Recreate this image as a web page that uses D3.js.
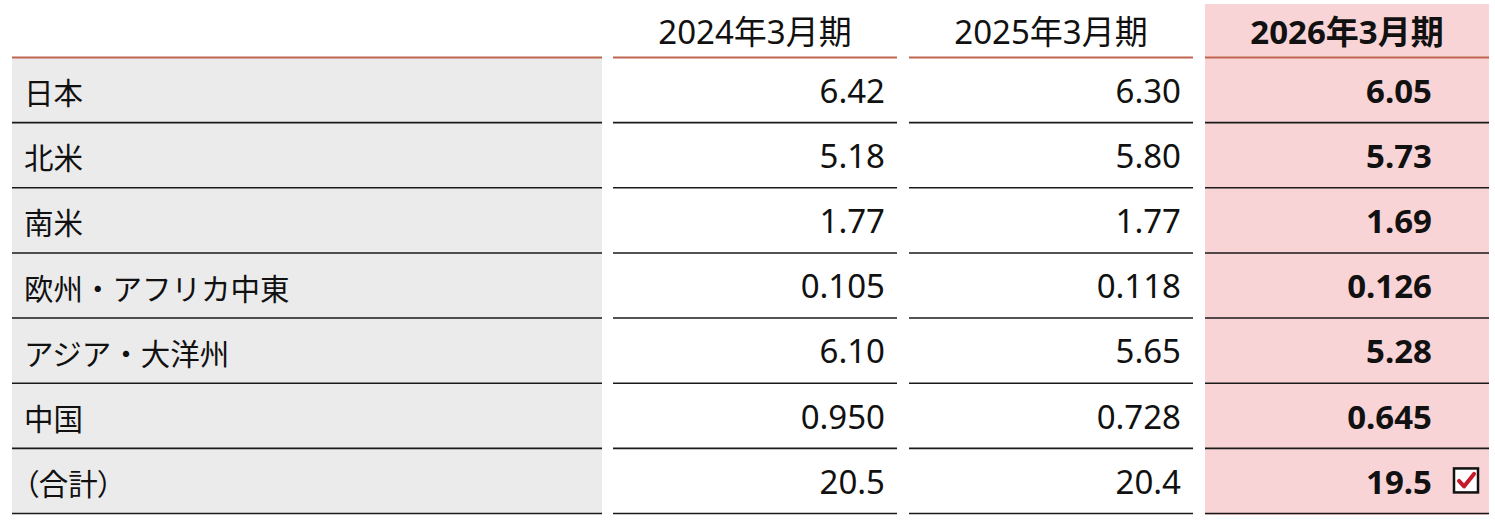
<!DOCTYPE html>
<html><head><meta charset="utf-8">
<script src="https://cdn.jsdelivr.net/npm/d3@7"></script>
<style>
html,body{margin:0;padding:0;background:#fff;}
svg{display:block;}
text{font-family:"Noto Sans CJK JP","Noto Sans",sans-serif;fill:#111;}
text.num{font-family:"Noto Sans","Noto Sans CJK JP",sans-serif;}
text.palt{font-feature-settings:"palt";}
</style></head>
<body>
<svg id="c" width="1495" height="523"></svg>
<script>
const categories = ["日本","北米","南米","欧州・アフリカ中東","アジア・大洋州","中国","（合計）"];
const periods = ["2024年3月期","2025年3月期","2026年3月期"];
const fy2024 = [6.42, 5.18, 1.77, 0.105, 6.10, 0.950, 20.5];
const fy2025 = [6.30, 5.80, 1.77, 0.118, 5.65, 0.728, 20.4];
const fy2026 = [6.05, 5.73, 1.69, 0.126, 5.28, 0.645, 19.5];
const series = [fy2024, fy2025, fy2026];

const svg = d3.select("#c");
const fmt = d3.format(".3r");

const labelX0 = 12, labelX1 = 602;
const x = d3.scaleBand().domain(periods).range([613, 1489]).paddingInner(12/296).paddingOuter(0);
const y = d3.scaleBand().domain(categories).range([57.5, 513.5]).padding(0);
const hl = periods.length - 1;

// highlighted column background
svg.append("rect")
  .attr("x", x(periods[hl])).attr("y", 4)
  .attr("width", x.bandwidth()).attr("height", 511)
  .attr("fill", "#f9d4d6");

// label column background
svg.append("rect")
  .attr("x", labelX0).attr("y", y(categories[0]))
  .attr("width", labelX1 - labelX0).attr("height", y.range()[1] - y.range()[0])
  .attr("fill", "#ebebec");

// header texts
svg.selectAll("text.hdr").data(periods).join("text")
  .attr("class","hdr num")
  .attr("x", d => x(d) + x.bandwidth()/2)
  .attr("y", 44)
  .attr("text-anchor","middle")
  .attr("font-size", 33)
  .attr("font-weight", (d,i) => i === hl ? 700 : 400)
  .text(d => d);

// column segments: label + periods
const segs = [[labelX0, labelX1]].concat(periods.map(p => [x(p), x(p) + x.bandwidth()]));

// header lines
svg.selectAll("line.hl").data(segs).join("line")
  .attr("class","hl")
  .attr("x1", d => d[0]).attr("x2", d => d[1])
  .attr("y1", y.range()[0]).attr("y2", y.range()[0])
  .attr("stroke", "#c0654f").attr("stroke-width", 2.2);

// row lines
const rowLines = [];
categories.forEach(c => segs.forEach(s => rowLines.push({y: y(c) + y.bandwidth(), s})));
svg.selectAll("line.rl").data(rowLines).join("line")
  .attr("class","rl")
  .attr("x1", d => d.s[0]).attr("x2", d => d.s[1])
  .attr("y1", d => d.y).attr("y2", d => d.y)
  .attr("stroke", "#1a1a1a").attr("stroke-width", 1.6);

// row labels
svg.selectAll("text.lab").data(categories).join("text")
  .attr("class", d => d.startsWith("（") ? "lab palt" : "lab")
  .attr("x", 24)
  .attr("y", d => y(d) + y.bandwidth()/2 + 1)
  .attr("dominant-baseline","central")
  .attr("font-size", 29.5)
  .text(d => d);

// values
series.forEach((vals, si) => {
  const p = periods[si];
  const rx = si === hl ? x(p) + x.bandwidth() - 57 : x(p) + x.bandwidth() - 12;
  svg.selectAll("text.v" + si).data(vals).join("text")
    .attr("class","num v" + si)
    .attr("x", rx)
    .attr("y", (d,i) => y(categories[i]) + y.bandwidth()/2 + 12.8)
    .attr("text-anchor","end")
    .attr("font-size", 33)
    .attr("font-weight", si === hl ? 700 : 400)
    .text(d => fmt(d));
});

// check box on total row of highlighted column
const lastCat = categories[categories.length - 1];
const bx = x(periods[hl]) + x.bandwidth() - 35;
const by = y(lastCat) + y.bandwidth()/2 - 12.5;
svg.append("rect")
  .attr("x", bx).attr("y", by).attr("width", 24).attr("height", 24)
  .attr("fill", "#fff").attr("stroke", "#111").attr("stroke-width", 2.5);
svg.append("path")
  .attr("d", `M${bx+5},${by+12.5} L${bx+10},${by+18} L${bx+20},${by+5.5}`)
  .attr("fill","none").attr("stroke","#c41a2a").attr("stroke-width", 4)
  .attr("stroke-linecap","round").attr("stroke-linejoin","round");
</script>
</body></html>
